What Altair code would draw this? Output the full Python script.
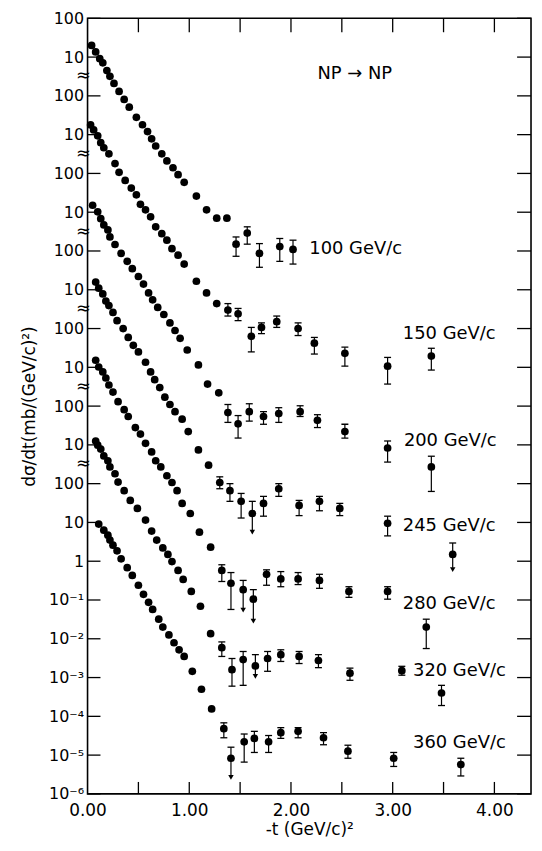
import altair as alt
import pandas as pd

# ---------------- data (true dσ/dt in mb/(GeV/c)^2) ----------------
energies = ["100", "150", "200", "245", "280", "320", "360"]
offset_exp = [12, 10, 8, 6, 4, 2, 0]   # each curve shifted by 10^2 relative to the next

# 100 GeV/c
cone_t_100 = [0.04, 0.08, 0.12, 0.15, 0.19, 0.22, 0.26, 0.31, 0.36, 0.41, 0.48, 0.54, 0.59, 0.63,
              0.67, 0.73, 0.78, 0.84, 0.89, 0.95, 1.07, 1.17, 1.27, 1.37]
cone_v_100 = [20, 13.6, 9.1, 7.1, 4.5, 3.2, 2.1, 1.3, 0.81, 0.51, 0.28, 0.18, 0.12, 0.078,
              0.051, 0.032, 0.021, 0.014, 0.0093, 0.0059, 0.0026, 0.00115, 0.0007, 0.0007]
err_t_100 = [1.46, 1.57, 1.69, 1.89, 2.02]
err_v_100 = [1.5e-4, 2.9e-4, 8.7e-5, 1.3e-4, 1.1e-4]
err_lo_100 = [7.3e-5, 1.5e-4, 3.8e-5, 5.4e-5, 4.6e-5]
err_hi_100 = [2.3e-4, 4.2e-4, 1.55e-4, 2.1e-4, 1.9e-4]
arrows_100 = []

# 150 GeV/c
cone_t_150 = [0.03, 0.06, 0.10, 0.13, 0.16, 0.21, 0.27, 0.31, 0.37, 0.43, 0.48, 0.52, 0.57, 0.62,
              0.67, 0.73, 0.78, 0.83, 0.89, 0.95, 1.07, 1.17, 1.27]
cone_v_150 = [17.8, 13.2, 9.3, 6.2, 4.6, 3.2, 1.8, 1.07, 0.66, 0.42, 0.28, 0.16, 0.115, 0.076,
              0.042, 0.028, 0.019, 0.0115, 0.0078, 0.0046, 0.00166, 0.00083, 0.00044]
err_t_150 = [1.38, 1.48, 1.61, 1.71, 1.86, 2.07, 2.23, 2.53, 2.95, 3.38]
err_v_150 = [3.0e-4, 2.4e-4, 6.3e-5, 1.07e-4, 1.5e-4, 1.0e-4, 4.2e-5, 2.3e-5, 1.07e-5, 1.95e-5]
err_lo_150 = [2.1e-4, 1.6e-4, 2.5e-5, 7.4e-5, 1.07e-4, 6.6e-5, 2.2e-5, 1.07e-5, 3.7e-6, 8.5e-6]
err_hi_150 = [4.4e-4, 3.3e-4, 1.07e-4, 1.4e-4, 2.1e-4, 1.4e-4, 5.9e-5, 3.3e-5, 1.8e-5, 3.1e-5]
arrows_150 = []

# 200 GeV/c
cone_t_200 = [0.05, 0.10, 0.13, 0.16, 0.20, 0.22, 0.27, 0.33, 0.39, 0.44, 0.50, 0.55, 0.60, 0.64,
              0.69, 0.75, 0.81, 0.86, 0.91, 0.98, 1.09, 1.18, 1.29]
cone_v_200 = [15.1, 10.2, 6.8, 4.7, 3.5, 2.3, 1.47, 0.87, 0.54, 0.35, 0.22, 0.14, 0.083, 0.055,
              0.035, 0.023, 0.014, 0.0089, 0.0056, 0.0028, 0.00115, 3.7e-4, 2.2e-4]
err_t_200 = [1.38, 1.48, 1.59, 1.73, 1.88, 2.09, 2.26, 2.53, 2.95, 3.38]
err_v_200 = [6.8e-5, 3.5e-5, 7.2e-5, 5.4e-5, 6.4e-5, 7.2e-5, 4.3e-5, 2.2e-5, 8.3e-6, 2.7e-6]
err_lo_200 = [3.8e-5, 1.5e-5, 4.1e-5, 3.4e-5, 3.8e-5, 5.4e-5, 2.8e-5, 1.5e-5, 3.6e-6, 6.3e-7]
err_hi_200 = [1.1e-4, 5.7e-5, 1.15e-4, 7.2e-5, 9.1e-5, 1.02e-4, 6.0e-5, 3.4e-5, 1.26e-5, 5.1e-6]
arrows_200 = []

# 245 GeV/c
cone_t_245 = [0.08, 0.11, 0.15, 0.18, 0.21, 0.25, 0.29, 0.35, 0.40, 0.45, 0.50, 0.57, 0.62, 0.66,
              0.71, 0.76, 0.81, 0.86, 0.93, 0.99, 1.09, 1.19]
cone_v_245 = [15.8, 11.0, 7.8, 5.1, 3.9, 2.6, 1.6, 1.0, 0.59, 0.37, 0.25, 0.135, 0.076, 0.048,
              0.030, 0.017, 0.011, 0.0072, 0.0046, 0.0022, 7.4e-4, 3.0e-4]
err_t_245 = [1.30, 1.40, 1.51, 1.62, 1.73, 1.88, 2.08, 2.28, 2.48, 2.95, 3.59]
err_v_245 = [1.07e-4, 6.6e-5, 3.5e-5, 1.7e-5, 3.1e-5, 7.4e-5, 2.75e-5, 3.5e-5, 2.3e-5, 9.5e-6, 1.5e-6]
err_lo_245 = [7.4e-5, 3.5e-5, 1.3e-5, 6.3e-6, 1.45e-5, 4.7e-5, 1.5e-5, 2.0e-5, 1.5e-5, 4.5e-6, 6.8e-7]
err_hi_245 = [1.5e-4, 1.0e-4, 5.6e-5, 3.5e-5, 4.7e-5, 1.0e-4, 3.7e-5, 4.7e-5, 3.1e-5, 1.45e-5, 2.95e-6]
arrows_245 = [3, 10]

# 280 GeV/c
cone_t_280 = [0.08, 0.11, 0.15, 0.18, 0.21, 0.25, 0.30, 0.36, 0.40, 0.47, 0.52, 0.57, 0.63, 0.67,
              0.72, 0.78, 0.83, 0.88, 0.93, 1.01, 1.10, 1.21]
cone_v_280 = [15.2, 10.2, 7.6, 5.3, 3.5, 2.3, 1.3, 0.81, 0.54, 0.28, 0.19, 0.11, 0.066, 0.039,
              0.027, 0.016, 0.0107, 0.0066, 0.0031, 0.0017, 5.6e-4, 2.3e-4]
err_t_280 = [1.32, 1.41, 1.53, 1.63, 1.76, 1.90, 2.07, 2.28, 2.57, 2.95, 3.33]
err_v_280 = [5.8e-5, 2.7e-5, 1.85e-5, 1.05e-5, 4.6e-5, 3.5e-5, 3.5e-5, 3.2e-5, 1.66e-5, 1.66e-5, 2.0e-6]
err_lo_280 = [3.0e-5, 5.7e-6, 6.2e-6, 3.2e-6, 2.4e-5, 2.2e-5, 2.5e-5, 2.0e-5, 1.17e-5, 1.05e-5, 5.6e-7]
err_hi_280 = [8.1e-5, 5.1e-5, 3.2e-5, 1.85e-5, 6.0e-5, 5.4e-5, 5.1e-5, 4.6e-5, 2.2e-5, 2.2e-5, 3.2e-6]
arrows_280 = [2, 3]

# 320 GeV/c
cone_t_320 = [0.08, 0.10, 0.13, 0.16, 0.20, 0.22, 0.27, 0.30, 0.36, 0.42, 0.49, 0.57, 0.63, 0.68,
              0.74, 0.79, 0.83, 0.89, 0.94, 1.02, 1.11, 1.21]
cone_v_320 = [12.5, 9.8, 7.8, 5.2, 3.9, 2.7, 1.8, 1.1, 0.66, 0.37, 0.23, 0.115, 0.060, 0.035,
              0.022, 0.015, 0.0098, 0.0058, 0.0034, 0.00166, 6.9e-4, 1.35e-4]
err_t_320 = [1.32, 1.42, 1.53, 1.65, 1.77, 1.90, 2.08, 2.27, 2.58, 3.09, 3.48]
err_v_320 = [5.9e-5, 1.6e-5, 2.9e-5, 2.0e-5, 3.1e-5, 3.9e-5, 3.5e-5, 2.75e-5, 1.3e-5, 1.5e-5, 4.0e-6]
err_lo_320 = [3.5e-5, 6.0e-6, 6.3e-6, 1.2e-5, 1.45e-5, 2.6e-5, 2.3e-5, 1.8e-5, 8.5e-6, 1.15e-5, 1.9e-6]
err_hi_320 = [8.3e-5, 3.1e-5, 4.7e-5, 3.9e-5, 4.7e-5, 5.2e-5, 4.7e-5, 3.9e-5, 1.75e-5, 1.95e-5, 6.3e-6]
arrows_320 = [3]

# 360 GeV/c
cone_t_360 = [0.11, 0.16, 0.20, 0.22, 0.25, 0.29, 0.33, 0.39, 0.44, 0.50, 0.55, 0.60, 0.64, 0.70,
              0.74, 0.80, 0.85, 0.90, 0.95, 1.03, 1.12, 1.22]
cone_v_360 = [9.1, 6.3, 4.7, 3.5, 2.6, 1.85, 1.15, 0.68, 0.43, 0.24, 0.14, 0.087, 0.057, 0.032,
              0.020, 0.0126, 0.0079, 0.0052, 0.0035, 0.00145, 5.0e-4, 1.55e-4]
err_t_360 = [1.34, 1.41, 1.54, 1.64, 1.78, 1.90, 2.07, 2.32, 2.56, 3.01, 3.67]
err_v_360 = [4.8e-5, 8.3e-6, 2.2e-5, 2.7e-5, 2.2e-5, 3.8e-5, 4.1e-5, 2.8e-5, 1.26e-5, 8.3e-6, 5.7e-6]
err_lo_360 = [2.8e-5, 3.0e-6, 6.6e-6, 1.17e-5, 1.17e-5, 2.7e-5, 2.8e-5, 1.85e-5, 8.3e-6, 5.1e-6, 2.9e-6]
err_hi_360 = [6.8e-5, 1.6e-5, 3.5e-5, 4.1e-5, 3.2e-5, 5.1e-5, 5.1e-5, 3.8e-5, 1.8e-5, 1.17e-5, 8.3e-6]
arrows_360 = [1]

# energy labels (position in true units of each curve)
label_t = [2.18, 3.10, 3.11, 3.10, 3.10, 3.20, 3.20]
label_v = [1.1e-4, 7.4e-5, 1.26e-5, 7.9e-6, 7.7e-6, 1.45e-5, 2.0e-5]

# axis ticks / labels
x_label_values = [0, 1, 2, 3, 4]
x_tick_values = [0.5, 1.0, 1.5, 2.0, 2.5, 3.0, 3.5, 4.0]
y_tick_exp = list(range(-6, 15))
y_tick_labels = ["10⁻⁶", "10⁻⁵", "10⁻⁴", "10⁻³", "10⁻²", "10⁻¹", "1",
                 "10", "100", "10", "100", "10", "100", "10", "100",
                 "10", "100", "10", "100", "10", "100"]
break_exp = [2.5, 4.5, 6.5, 8.5, 10.5, 12.5]

title_text = "NP → NP"
title_t = 2.26
title_y = 3.7e12

# ---------------- tables ----------------
series = [
    ("100", cone_t_100, cone_v_100, err_t_100, err_v_100, err_lo_100, err_hi_100, arrows_100),
    ("150", cone_t_150, cone_v_150, err_t_150, err_v_150, err_lo_150, err_hi_150, arrows_150),
    ("200", cone_t_200, cone_v_200, err_t_200, err_v_200, err_lo_200, err_hi_200, arrows_200),
    ("245", cone_t_245, cone_v_245, err_t_245, err_v_245, err_lo_245, err_hi_245, arrows_245),
    ("280", cone_t_280, cone_v_280, err_t_280, err_v_280, err_lo_280, err_hi_280, arrows_280),
    ("320", cone_t_320, cone_v_320, err_t_320, err_v_320, err_lo_320, err_hi_320, arrows_320),
    ("360", cone_t_360, cone_v_360, err_t_360, err_v_360, err_lo_360, err_hi_360, arrows_360),
]

pts, errs, caps, arrs = [], [], [], []
for (e, ct, cv, et, ev, elo, ehi, arr), k in zip(series, offset_exp):
    f = 10.0 ** k
    for t, v in zip(ct, cv):
        pts.append({"t": t, "y": v * f, "E": e})
    for i, (t, v, lo, hi) in enumerate(zip(et, ev, elo, ehi)):
        pts.append({"t": t, "y": v * f, "E": e})
        errs.append({"t": t, "y": lo * f, "hi": hi * f})
        caps.append({"t": t, "y": hi * f})
        if i in arr:
            arrs.append({"t": t, "y": lo * f})
        else:
            caps.append({"t": t, "y": lo * f})

pts_df = pd.DataFrame(pts)
err_df = pd.DataFrame(errs)
cap_df = pd.DataFrame(caps)
arr_df = pd.DataFrame(arrs)
lab_df = pd.DataFrame({
    "t": label_t,
    "y": [v * 10.0 ** k for v, k in zip(label_v, offset_exp)],
    "txt": [f"{e} GeV/c" for e in energies],
})
ytick_df = pd.DataFrame({"y": [10.0 ** p for p in y_tick_exp]})
xtick_df = pd.DataFrame({"t": x_tick_values})
brk_df = pd.DataFrame({"t": [0.0] * len(break_exp), "y": [10.0 ** p for p in break_exp]})
np_df = pd.DataFrame({"t": [title_t], "y": [title_y], "txt": [title_text]})

# ---------------- chart ----------------
W, H = 446, 780
FONT = "DejaVu Sans"
xs = alt.Scale(domain=[0, 4.36], nice=False, zero=False, padding=0)
ys = alt.Scale(type="log", domain=[1e-6, 1e14], nice=False, padding=0)

label_expr = "[" + ",".join(f"'{s}'" for s in y_tick_labels) + "][round(log(datum.value)/LN10)+6]"

x_axis = alt.Axis(values=x_label_values, format=".2f", ticks=False, domain=False, grid=False,
                  labelFontSize=17, labelPadding=9, labelColor="black", labelFont=FONT,
                  labelFlush=False, labelOverlap=False,
                  title="-t (GeV/c)²", titleFontSize=17, titleFontWeight="normal",
                  titleFont=FONT, titleColor="black", titlePadding=3)
y_axis = alt.Axis(values=[10.0 ** p for p in y_tick_exp], labelExpr=label_expr, ticks=False,
                  domain=False, grid=False, labelFontSize=16, labelPadding=4, labelColor="black",
                  labelFont=FONT, labelFlush=False, labelOverlap=False,
                  title="dσ/dt(mb/(GeV/c)²)", titleFontSize=17, titleFontWeight="normal",
                  titleFont=FONT, titleColor="black", titlePadding=10)

X = alt.X("t:Q", scale=xs, axis=x_axis)
Y = alt.Y("y:Q", scale=ys, axis=y_axis)

points = alt.Chart(pts_df).mark_circle(size=60, color="black", opacity=1).encode(x=X, y=Y)
stems = alt.Chart(err_df).mark_rule(color="black", strokeWidth=1.2).encode(x=X, y=Y, y2="hi:Q")
capmarks = alt.Chart(cap_df).mark_tick(color="black", orient="horizontal", size=7,
                                       thickness=1.3, opacity=1).encode(x=X, y=Y)
arrows = alt.Chart(arr_df).mark_point(shape="triangle-down", filled=True, size=30,
                                      color="black", opacity=1, yOffset=2).encode(x=X, y=Y)
labels = alt.Chart(lab_df).mark_text(align="left", baseline="middle", fontSize=18,
                                     font=FONT, color="black").encode(x=X, y=Y, text="txt:N")
np_label = alt.Chart(np_df).mark_text(align="left", baseline="middle", fontSize=18,
                                      font=FONT, color="black").encode(x=X, y=Y, text="txt:N")
breaks = alt.Chart(brk_df).mark_text(text="≈", fontSize=18, font=FONT, color="black",
                                     dx=-4, baseline="middle", align="center").encode(x=X, y=Y)
ltick = alt.Chart(ytick_df).mark_rule(color="black", strokeWidth=1.3).encode(
    y=Y, x=alt.value(0), x2=alt.value(13))
rtick = alt.Chart(ytick_df).mark_rule(color="black", strokeWidth=1.3).encode(
    y=Y, x=alt.value(W), x2=alt.value(W - 14))
btick = alt.Chart(xtick_df).mark_rule(color="black", strokeWidth=1.3).encode(
    x=X, y=alt.value(H), y2=alt.value(H - 12))
ttick = alt.Chart(xtick_df).mark_rule(color="black", strokeWidth=1.3).encode(
    x=X, y=alt.value(0), y2=alt.value(14))

chart = alt.layer(points, ltick, rtick, btick, ttick, stems, capmarks, arrows, labels,
                  np_label, breaks).properties(
    width=W, height=H,
    padding={"left": 12, "top": 0, "right": 2, "bottom": 0},
    background="white",
).configure_view(stroke="black", strokeWidth=1.6)

chart.save("out.html", embed_options={"renderer": "svg", "actions": False})
